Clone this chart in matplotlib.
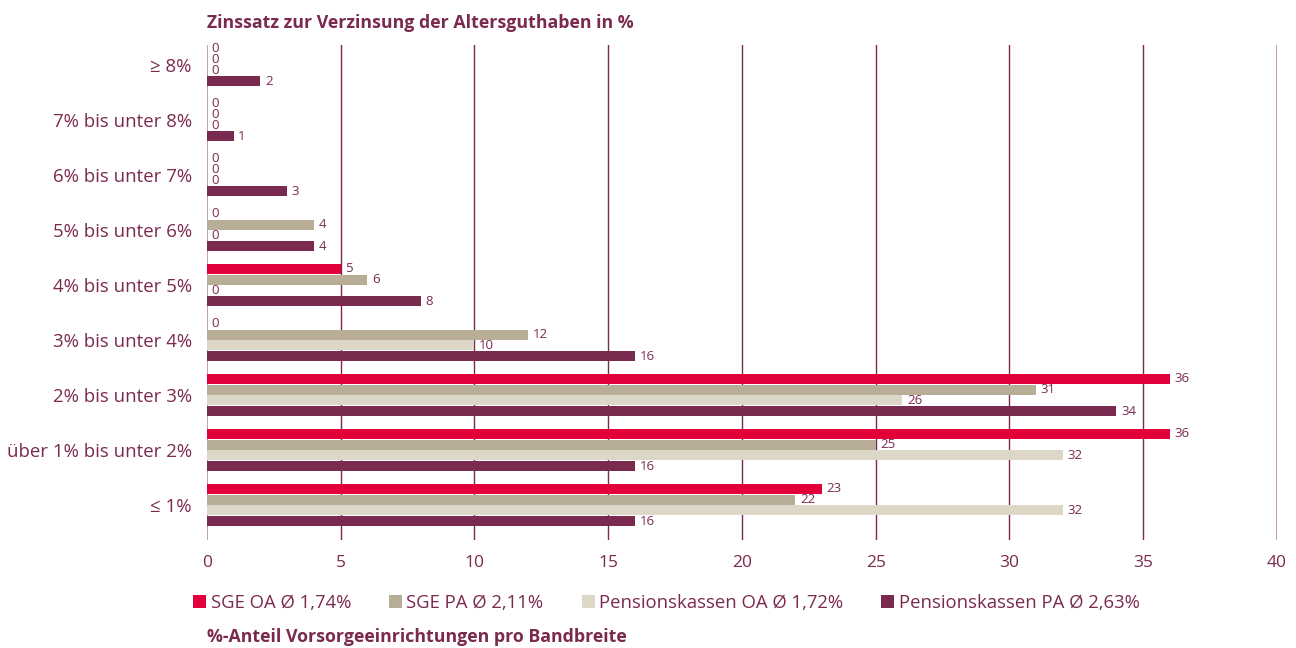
import numpy as np
import matplotlib.pyplot as plt
from matplotlib.patches import Patch

plt.rcParams['font.family'] = ['Open Sans', 'DejaVu Sans']

# bottom to top
categories = ["≤ 1%", "über 1% bis unter 2%", "2% bis unter 3%", "3% bis unter 4%",
              "4% bis unter 5%", "5% bis unter 6%", "6% bis unter 7%",
              "7% bis unter 8%", "≥ 8%"]
sge_oa = [23, 36, 36, 0, 5, 0, 0, 0, 0]
sge_pa = [22, 25, 31, 12, 6, 4, 0, 0, 0]
pk_oa = [32, 32, 26, 10, 0, 0, 0, 0, 0]
pk_pa = [16, 16, 34, 16, 8, 4, 3, 1, 2]
series_names = ["SGE OA Ø 1,74%", "SGE PA Ø 2,11%",
                "Pensionskassen OA Ø 1,72%", "Pensionskassen PA Ø 2,63%"]
colors = ["#e2003a", "#b8ad96", "#ddd7c8", "#7a2a4f"]
xticks = [0, 5, 10, 15, 20, 25, 30, 35, 40]

purple = "#7a2a4f"

fig = plt.figure(figsize=(12.96, 6.48), dpi=100)
ax = fig.add_axes([0.1597, 0.1667, 0.8256, 0.7639])

y = np.arange(len(categories))
pitch = 0.198
height = 0.182
offsets = [1.5 * pitch, 0.5 * pitch, -0.5 * pitch, -1.5 * pitch]

for vals, col, off in zip([sge_oa, sge_pa, pk_oa, pk_pa], colors, offsets):
    ax.barh(y + off, vals, height=height, color=col, zorder=3)
    for yi, v in zip(y, vals):
        ax.text(v + 0.17, yi + off, str(v), va="center", ha="left",
                fontsize=9.5, color=purple, zorder=4)

ax.set_xlim(0, 40)
ax.set_ylim(-0.636, 8.364)
ax.set_yticks(y)
ax.set_yticklabels(categories)
ax.set_xticks(xticks)
ax.tick_params(axis="both", length=0, colors=purple)
ax.tick_params(axis="y", pad=11, labelsize=13.4)
ax.tick_params(axis="x", pad=11, labelsize=12.5)

for s in ax.spines.values():
    s.set_visible(False)
for xv in xticks:
    if xv in (0, 40):
        ax.axvline(xv, color="#b78ea2", lw=1.2, zorder=2)
    else:
        ax.axvline(xv, color=purple, lw=1.0, zorder=2)

fig.text(0.1597, 0.965, "Zinssatz zur Verzinsung der Altersguthaben in %",
         fontsize=12.75, fontweight="bold", color=purple, va="center", ha="left")
fig.text(0.1597, 0.017, "%-Anteil Vorsorgeeinrichtungen pro Bandbreite",
         fontsize=12.75, fontweight="bold", color=purple, va="center", ha="left")

handles = [Patch(facecolor=c, edgecolor="none") for c in colors]
leg = fig.legend(handles, series_names, loc="center left",
                 bbox_to_anchor=(0.1489, 0.069), ncol=4, frameon=False,
                 borderpad=0, borderaxespad=0, fontsize=13.3,
                 handlelength=0.7, handleheight=0.7,
                 handletextpad=0.25, columnspacing=2.06)
for t in leg.get_texts():
    t.set_color(purple)

fig.savefig("out.png", dpi=100)
